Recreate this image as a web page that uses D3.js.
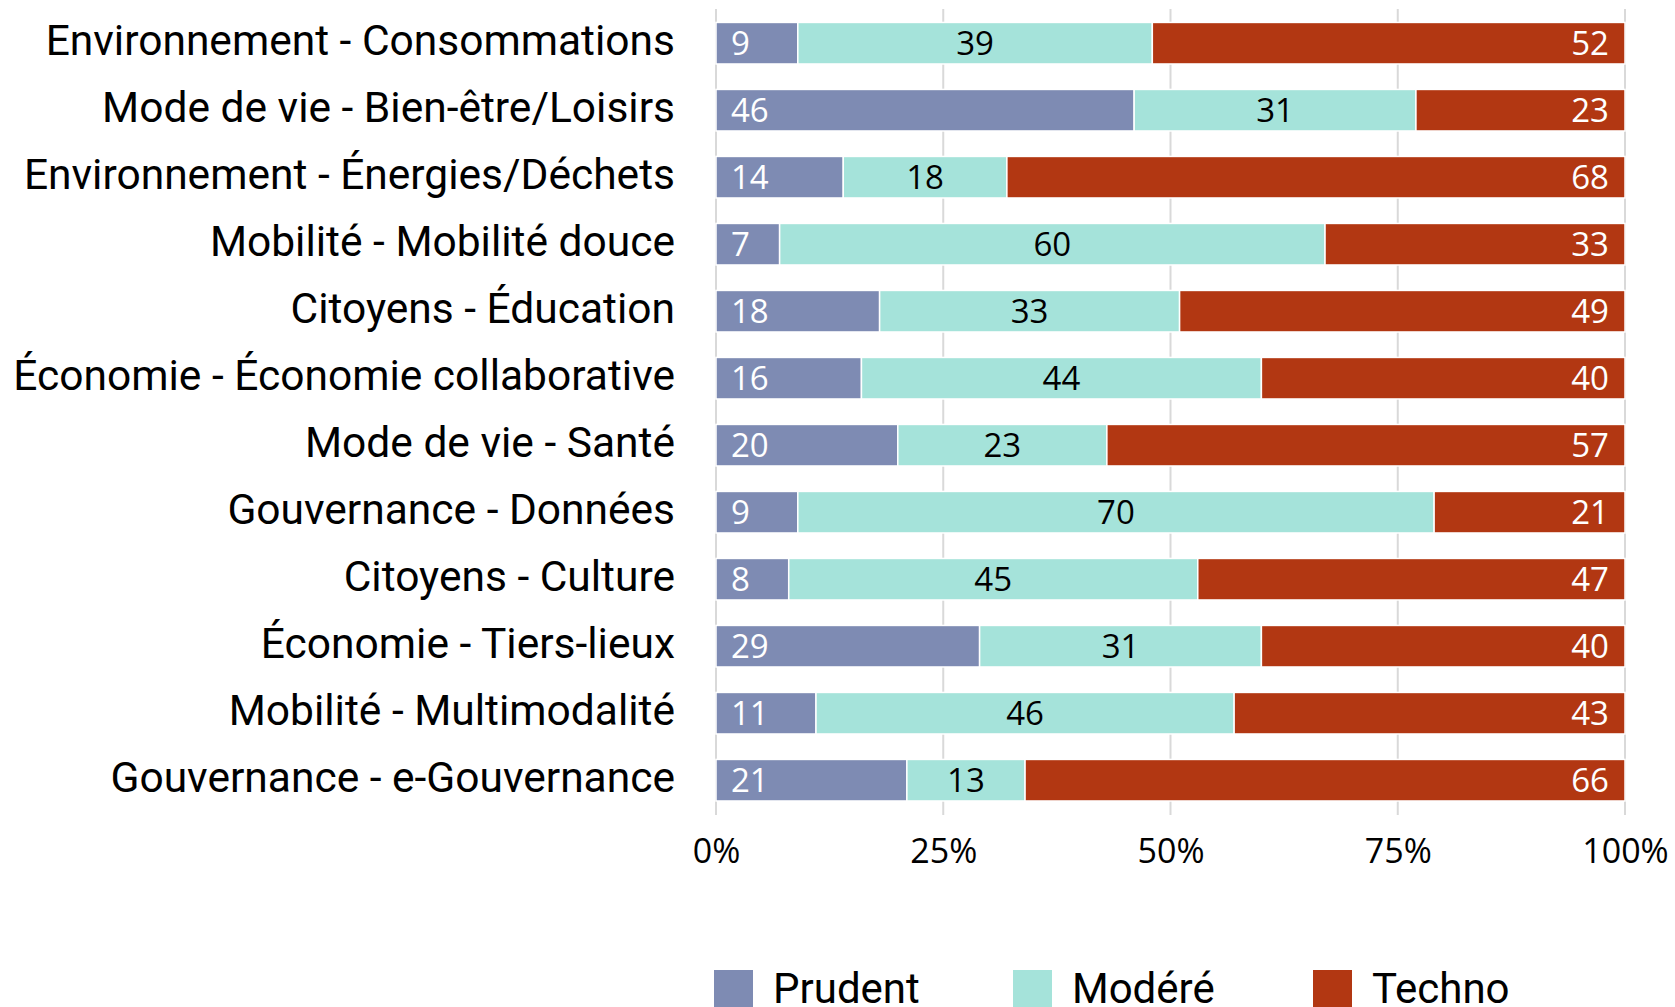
<!DOCTYPE html>
<html><head><meta charset="utf-8">
<script src="https://cdn.jsdelivr.net/npm/d3@7"></script>
<style>html,body{margin:0;padding:0;background:#fff;}svg{display:block;}</style>
</head><body>
<script>
const categories = [
  "Environnement - Consommations",
  "Mode de vie - Bien-être/Loisirs",
  "Environnement - Énergies/Déchets",
  "Mobilité - Mobilité douce",
  "Citoyens - Éducation",
  "Économie - Économie collaborative",
  "Mode de vie - Santé",
  "Gouvernance - Données",
  "Citoyens - Culture",
  "Économie - Tiers-lieux",
  "Mobilité - Multimodalité",
  "Gouvernance - e-Gouvernance"
];
const seriesNames = ["Prudent", "Modéré", "Techno"];
const prudent = [9, 46, 14, 7, 18, 16, 20, 9, 8, 29, 11, 21];
const modere  = [39, 31, 18, 60, 33, 44, 23, 70, 45, 31, 46, 13];
const techno  = [52, 23, 68, 33, 49, 40, 57, 21, 47, 40, 43, 66];
const tickValues = [0, 25, 50, 75, 100];
const tickLabels = ["0%", "25%", "50%", "75%", "100%"];
const colors = ["#7e8bb3", "#a5e3da", "#b23712"];
const labelColors = ["#ffffff", "#000000", "#ffffff"];

const W = 1675, H = 1007;
const svg = d3.select("body").append("svg").attr("width", W).attr("height", H);

const x = d3.scaleLinear().domain([0, 100]).range([716, 1625]);
const y = d3.scaleBand().domain(categories).range([9.7, 813.7]).paddingInner(0.38).paddingOuter(0.19);

// gridlines
svg.append("g").selectAll("line").data(tickValues).join("line")
  .attr("x1", d => x(d)).attr("x2", d => x(d))
  .attr("y1", 9).attr("y2", 815)
  .attr("stroke", "#d9d9d9").attr("stroke-width", 2);

const seriesData = [prudent, modere, techno];
const rows = categories.map((c, i) => {
  let acc = 0;
  return seriesData.map((s, k) => {
    const v = s[i];
    const o = {cat: c, k, v, x0: acc, x1: acc + v};
    acc += v;
    return o;
  });
});

const g = svg.append("g");
rows.forEach(row => {
  row.forEach(seg => {
    g.append("rect")
      .attr("x", x(seg.x0)).attr("y", y(seg.cat))
      .attr("width", x(seg.x1) - x(seg.x0)).attr("height", y.bandwidth())
      .attr("fill", colors[seg.k]).attr("stroke", "#ffffff").attr("stroke-width", 1.5);
    let tx, anchor;
    if (seg.k === 0) { tx = x(seg.x0) + 15; anchor = "start"; }
    else if (seg.k === 1) { tx = (x(seg.x0) + x(seg.x1)) / 2; anchor = "middle"; }
    else { tx = x(seg.x1) - 16; anchor = "end"; }
    g.append("text")
      .attr("x", tx).attr("y", y(seg.cat) + y.bandwidth() / 2)
      .attr("dy", "0.36em")
      .attr("text-anchor", anchor)
      .attr("font-family", "'Open Sans', sans-serif")
      .attr("font-size", 33)
      .attr("fill", labelColors[seg.k])
      .text(seg.v);
  });
});

// category labels
const yAxis = d3.axisLeft(y).tickSize(0).tickPadding(0);
const ya = svg.append("g").attr("transform", "translate(675,0)").call(yAxis);
ya.select(".domain").remove();
ya.selectAll("text").attr("font-family", "Roboto, sans-serif").attr("font-size", 42.5)
  .attr("fill", "#000").attr("dy", "0.27em");

// x axis labels
const xAxis = d3.axisBottom(x).tickValues(tickValues).tickFormat((d, i) => tickLabels[i]).tickSize(0).tickPadding(0);
const xa = svg.append("g").attr("transform", "translate(0,851)").call(xAxis);
xa.select(".domain").remove();
xa.selectAll("text").attr("font-family", "'Open Sans', sans-serif").attr("font-size", 34)
  .attr("fill", "#000").attr("dy", "0.36em");

// legend
const legendX = [714, 1013, 1313];
const lg = svg.append("g");
seriesNames.forEach((n, i) => {
  lg.append("rect").attr("x", legendX[i]).attr("y", 970).attr("width", 39).attr("height", 40).attr("fill", colors[i]);
  lg.append("text").attr("x", legendX[i] + 59).attr("y", 1003)
    .attr("font-family", "Roboto, sans-serif").attr("font-size", 42).attr("fill", "#000").text(n);
});
</script>
</body></html>
